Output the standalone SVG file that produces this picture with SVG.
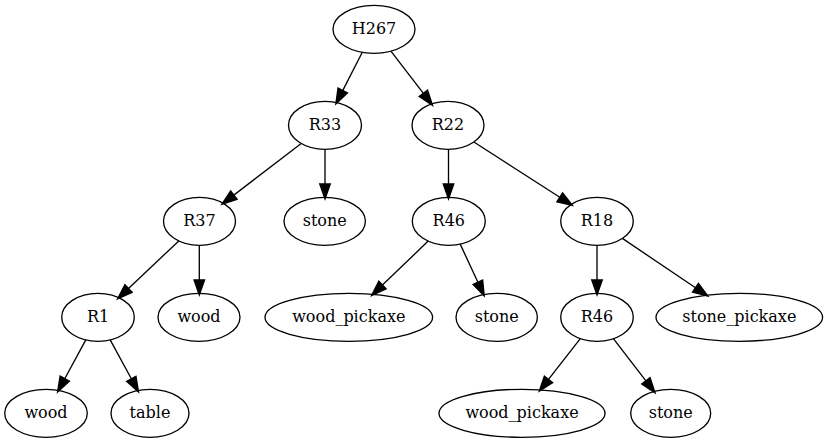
<svg xmlns="http://www.w3.org/2000/svg" width="828" height="443" viewBox="0 0 828 443">
<style>
.n ellipse{fill:none;stroke:#000;stroke-width:1.33}
.n text{font-family:"DejaVu Serif","Liberation Serif",serif;font-size:16px;text-anchor:middle;fill:#000}
.e path{fill:none;stroke:#000;stroke-width:1.33}
</style>
<defs>
<marker id="arr" markerUnits="userSpaceOnUse" orient="auto" refX="0" refY="0" markerWidth="20" markerHeight="20" viewBox="-2 -7 18 14" overflow="visible">
<path d="M0,-4.67 L13.33,0 L0,4.67 Z" fill="#000" stroke="#000" stroke-width="1.33"/>
</marker>
</defs>
<rect width="828" height="443" fill="#fff"/>
<g id="edges" class="e">
<path d="M362.3,52.3 L342.7,90.6" marker-end="url(#arr)"/>
<path d="M390.9,51.2 L423.4,93.4" marker-end="url(#arr)"/>
<path d="M301.2,143.5 L233.8,195.1" marker-end="url(#arr)"/>
<path d="M325,149.3 L325,184" marker-end="url(#arr)"/>
<path d="M448.5,149.3 L448.5,184" marker-end="url(#arr)"/>
<path d="M473.9,142 L559.8,197.3" marker-end="url(#arr)"/>
<path d="M178.8,240.9 L128.5,288.5" marker-end="url(#arr)"/>
<path d="M199.3,245.3 L199.3,280" marker-end="url(#arr)"/>
<path d="M428.2,241.1 L382.4,285.1" marker-end="url(#arr)"/>
<path d="M460.2,244.1 L477.9,282.2" marker-end="url(#arr)"/>
<path d="M597,245.3 L597,280" marker-end="url(#arr)"/>
<path d="M622.4,238.4 L695.5,287.8" marker-end="url(#arr)"/>
<path d="M85.8,339.9 L64.75,378.7" marker-end="url(#arr)"/>
<path d="M110.2,339.9 L131.35,378.8" marker-end="url(#arr)"/>
<path d="M580.3,338.6 L548.5,379.4" marker-end="url(#arr)"/>
<path d="M613.4,338.7 L645.9,380.9" marker-end="url(#arr)"/>
</g>
<g id="H267" class="n"><ellipse cx="374" cy="29.3" rx="41" ry="24"/><text x="374" y="34.3">H267</text></g>
<g id="R33" class="n"><ellipse cx="325" cy="125.3" rx="36.5" ry="24"/><text x="325" y="130.3">R33</text></g>
<g id="R22" class="n"><ellipse cx="448" cy="125.3" rx="36" ry="24"/><text x="448" y="130.3">R22</text></g>
<g id="R37" class="n"><ellipse cx="199.5" cy="221.3" rx="36" ry="24"/><text x="199.5" y="226.3">R37</text></g>
<g id="stone1" class="n"><ellipse cx="324.7" cy="221.3" rx="40.7" ry="24"/><text x="324.7" y="226.3">stone</text></g>
<g id="R46a" class="n"><ellipse cx="448.8" cy="221.3" rx="36.5" ry="24"/><text x="448.8" y="226.3">R46</text></g>
<g id="R18" class="n"><ellipse cx="597" cy="221.3" rx="36.3" ry="24"/><text x="597" y="226.3">R18</text></g>
<g id="R1" class="n"><ellipse cx="98" cy="317.3" rx="36.3" ry="24"/><text x="98" y="322.3">R1</text></g>
<g id="wood1" class="n"><ellipse cx="199" cy="317.3" rx="41" ry="24"/><text x="199" y="322.3">wood</text></g>
<g id="wp1" class="n"><ellipse cx="348.8" cy="317.3" rx="83.8" ry="24"/><text x="348.8" y="322.3">wood_pickaxe</text></g>
<g id="stone2" class="n"><ellipse cx="496.7" cy="317.3" rx="40.7" ry="24"/><text x="496.7" y="322.3">stone</text></g>
<g id="R46b" class="n"><ellipse cx="597" cy="317.3" rx="36.3" ry="24"/><text x="597" y="322.3">R46</text></g>
<g id="sp" class="n"><ellipse cx="739.3" cy="317.3" rx="83.3" ry="24"/><text x="739.3" y="322.3">stone_pickaxe</text></g>
<g id="wood2" class="n"><ellipse cx="46" cy="413.3" rx="41.3" ry="24"/><text x="46" y="418.3">wood</text></g>
<g id="table" class="n"><ellipse cx="150" cy="413.3" rx="39" ry="24"/><text x="150" y="418.3">table</text></g>
<g id="wp2" class="n"><ellipse cx="522" cy="413.3" rx="83" ry="24"/><text x="522" y="418.3">wood_pickaxe</text></g>
<g id="stone3" class="n"><ellipse cx="670.7" cy="413.3" rx="40" ry="24"/><text x="670.7" y="418.3">stone</text></g>
</svg>
